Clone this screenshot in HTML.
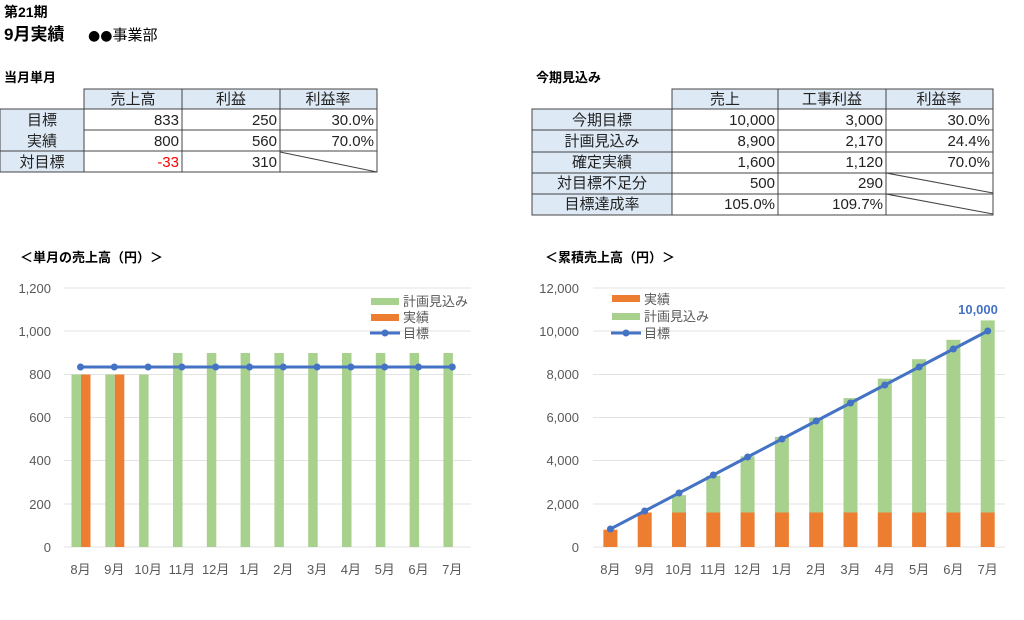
<!DOCTYPE html>
<html><head><meta charset="utf-8"><style>
body{margin:0;background:#fff;width:1024px;height:615px;overflow:hidden}
svg{font-family:"Liberation Sans","Noto Sans CJK JP",sans-serif}
</style></head><body>
<svg width="1024" height="615" xmlns="http://www.w3.org/2000/svg">
<text x="4" y="17" font-size="14" font-weight="bold">第21期</text>
<text x="4" y="40" font-size="17" font-weight="bold">9月実績</text>
<text x="88" y="40" font-size="15"><tspan font-family="DejaVu Sans" font-size="14">●●</tspan>事業部</text>
<text x="4" y="82" font-size="13" font-weight="bold">当月単月</text>
<text x="536" y="82" font-size="13" font-weight="bold">今期見込み</text>
<g font-size="15" fill="#222">
<rect x="84" y="89" width="293" height="20" fill="#dde9f5"/>
<rect x="0" y="109" width="84" height="63" fill="#dde9f5"/>
<g stroke="#444" stroke-width="1" fill="none">
<rect x="84" y="89" width="293" height="83"/>
<rect x="0" y="109" width="377" height="63"/>
<line x1="84" y1="130" x2="377" y2="130"/><line x1="0" y1="151" x2="377" y2="151"/>
<line x1="182" y1="89" x2="182" y2="172"/><line x1="280" y1="89" x2="280" y2="172"/>
<line x1="280" y1="152" x2="377" y2="172"/>
</g>
<g text-anchor="middle"><text x="133" y="104">売上高</text><text x="231" y="104">利益</text><text x="328" y="104">利益率</text>
<text x="42" y="125">目標</text><text x="42" y="146">実績</text><text x="42" y="167">対目標</text></g>
<g text-anchor="end"><text x="179" y="125">833</text><text x="277" y="125">250</text><text x="374" y="125">30.0%</text>
<text x="179" y="146">800</text><text x="277" y="146">560</text><text x="374" y="146">70.0%</text>
<text x="179" y="167" fill="#f00">-33</text><text x="277" y="167">310</text></g>

<rect x="672" y="89" width="321" height="20" fill="#dde9f5"/>
<rect x="532" y="109" width="140" height="106" fill="#dde9f5"/>
<g stroke="#444" stroke-width="1" fill="none">
<rect x="672" y="89" width="321" height="126"/>
<rect x="532" y="109" width="461" height="106"/>
<line x1="532" y1="130" x2="993" y2="130"/><line x1="532" y1="152" x2="993" y2="152"/>
<line x1="532" y1="173" x2="993" y2="173"/><line x1="532" y1="194" x2="993" y2="194"/>
<line x1="778" y1="89" x2="778" y2="215"/><line x1="886" y1="89" x2="886" y2="215"/>
<line x1="886" y1="173" x2="993" y2="193"/><line x1="886" y1="194" x2="993" y2="214"/>
</g>
<g text-anchor="middle"><text x="725" y="104">売上</text><text x="832" y="104">工事利益</text><text x="939" y="104">利益率</text>
<text x="602" y="125">今期目標</text><text x="602" y="146">計画見込み</text><text x="602" y="167">確定実績</text><text x="602" y="188">対目標不足分</text><text x="602" y="209">目標達成率</text></g>
<g text-anchor="end">
<text x="775" y="125">10,000</text><text x="883" y="125">3,000</text><text x="990" y="125">30.0%</text>
<text x="775" y="146">8,900</text><text x="883" y="146">2,170</text><text x="990" y="146">24.4%</text>
<text x="775" y="167">1,600</text><text x="883" y="167">1,120</text><text x="990" y="167">70.0%</text>
<text x="775" y="188">500</text><text x="883" y="188">290</text>
<text x="775" y="209">105.0%</text><text x="883" y="209">109.7%</text></g>
</g>

<text x="20" y="262" font-size="13" font-weight="bold">＜単月の売上高（円）＞</text>
<text x="545" y="262" font-size="13" font-weight="bold">＜累積売上高（円）＞</text>

<g id="left">
<g stroke="#e3e3e3" stroke-width="1">
<line x1="64" y1="288" x2="471" y2="288"/><line x1="64" y1="331" x2="471" y2="331"/><line x1="64" y1="374.5" x2="471" y2="374.5"/>
<line x1="64" y1="417.5" x2="471" y2="417.5"/><line x1="64" y1="460.5" x2="471" y2="460.5"/><line x1="64" y1="504" x2="471" y2="504"/><line x1="64" y1="547" x2="471" y2="547"/>
</g>
<g font-size="13" fill="#595959" text-anchor="end">
<text x="51" y="293">1,200</text><text x="51" y="336">1,000</text><text x="51" y="379">800</text><text x="51" y="422">600</text><text x="51" y="465">400</text><text x="51" y="509">200</text><text x="51" y="552">0</text></g>
<g fill="#a9d18e">
<rect x="71.5" y="374.5" width="9.5" height="172.5"/><rect x="105.3" y="374.5" width="9.5" height="172.5"/><rect x="139.1" y="374.5" width="9.5" height="172.5"/>
<rect x="173" y="353" width="9.5" height="194"/><rect x="206.8" y="353" width="9.5" height="194"/><rect x="240.6" y="353" width="9.5" height="194"/>
<rect x="274.4" y="353" width="9.5" height="194"/><rect x="308.2" y="353" width="9.5" height="194"/><rect x="342" y="353" width="9.5" height="194"/>
<rect x="375.8" y="353" width="9.5" height="194"/><rect x="409.6" y="353" width="9.5" height="194"/><rect x="443.4" y="353" width="9.5" height="194"/>
</g>
<g fill="#ed7d31"><rect x="81" y="374.5" width="9.5" height="172.5"/><rect x="114.8" y="374.5" width="9.5" height="172.5"/></g>
<polyline points="80.5,367 114.3,367 148.1,367 181.9,367 215.7,367 249.5,367 283.3,367 317.1,367 350.9,367 384.7,367 418.5,367 452.3,367" fill="none" stroke="#4472c4" stroke-width="3"/>
<g fill="#4472c4"><circle cx="80.5" cy="367" r="3.5"/><circle cx="114.3" cy="367" r="3.5"/><circle cx="148.1" cy="367" r="3.5"/><circle cx="181.9" cy="367" r="3.5"/><circle cx="215.7" cy="367" r="3.5"/><circle cx="249.5" cy="367" r="3.5"/><circle cx="283.3" cy="367" r="3.5"/><circle cx="317.1" cy="367" r="3.5"/><circle cx="350.9" cy="367" r="3.5"/><circle cx="384.7" cy="367" r="3.5"/><circle cx="418.5" cy="367" r="3.5"/><circle cx="452.3" cy="367" r="3.5"/></g>
<g font-size="13" fill="#595959" text-anchor="middle">
<text x="80.5" y="574">8月</text><text x="114.3" y="574">9月</text><text x="148.1" y="574">10月</text><text x="181.9" y="574">11月</text><text x="215.7" y="574">12月</text><text x="249.5" y="574">1月</text><text x="283.3" y="574">2月</text><text x="317.1" y="574">3月</text><text x="350.9" y="574">4月</text><text x="384.7" y="574">5月</text><text x="418.5" y="574">6月</text><text x="452.3" y="574">7月</text></g>
<rect x="371" y="298" width="28" height="7" fill="#a9d18e"/><rect x="371" y="314" width="28" height="7" fill="#ed7d31"/>
<line x1="370" y1="333" x2="400" y2="333" stroke="#4472c4" stroke-width="3"/><circle cx="385" cy="333" r="3.5" fill="#4472c4"/>
<g font-size="13" fill="#595959"><text x="403" y="306">計画見込み</text><text x="403" y="322">実績</text><text x="403" y="338">目標</text></g>
</g>

<g id="right">
<g stroke="#e3e3e3" stroke-width="1">
<line x1="593" y1="288" x2="1005" y2="288"/><line x1="593" y1="331" x2="1005" y2="331"/><line x1="593" y1="374.5" x2="1005" y2="374.5"/>
<line x1="593" y1="417.5" x2="1005" y2="417.5"/><line x1="593" y1="460.5" x2="1005" y2="460.5"/><line x1="593" y1="504" x2="1005" y2="504"/><line x1="593" y1="547" x2="1005" y2="547"/>
</g>
<g font-size="13" fill="#595959" text-anchor="end">
<text x="579" y="293">12,000</text><text x="579" y="336">10,000</text><text x="579" y="379">8,000</text><text x="579" y="422">6,000</text><text x="579" y="465">4,000</text><text x="579" y="509">2,000</text><text x="579" y="552">0</text></g>
<g fill="#a9d18e">
<rect x="672" y="495.2" width="14" height="17.3"/><rect x="706.3" y="475.8" width="14" height="36.7"/><rect x="740.6" y="456.4" width="14" height="56.1"/>
<rect x="774.9" y="436.9" width="14" height="75.6"/><rect x="809.2" y="417.5" width="14" height="95"/><rect x="843.5" y="398.1" width="14" height="114.4"/>
<rect x="877.8" y="378.7" width="14" height="133.8"/><rect x="912.1" y="359.2" width="14" height="153.3"/><rect x="946.4" y="339.8" width="14" height="172.7"/><rect x="980.7" y="320.4" width="14" height="192.1"/>
</g>
<g fill="#ed7d31">
<rect x="603.4" y="529.7" width="14" height="17.3"/>
<rect x="637.7" y="512.5" width="14" height="34.5"/><rect x="672" y="512.5" width="14" height="34.5"/><rect x="706.3" y="512.5" width="14" height="34.5"/><rect x="740.6" y="512.5" width="14" height="34.5"/><rect x="774.9" y="512.5" width="14" height="34.5"/><rect x="809.2" y="512.5" width="14" height="34.5"/><rect x="843.5" y="512.5" width="14" height="34.5"/><rect x="877.8" y="512.5" width="14" height="34.5"/><rect x="912.1" y="512.5" width="14" height="34.5"/><rect x="946.4" y="512.5" width="14" height="34.5"/><rect x="980.7" y="512.5" width="14" height="34.5"/>
</g>
<polyline points="610.4,529 644.7,511 679,493 713.3,475 747.6,457 781.9,439 816.2,421 850.5,403 884.8,385 919.1,367 953.4,349 987.7,331" fill="none" stroke="#4472c4" stroke-width="3"/>
<g fill="#4472c4"><circle cx="610.4" cy="529" r="3.5"/><circle cx="644.7" cy="511" r="3.5"/><circle cx="679" cy="493" r="3.5"/><circle cx="713.3" cy="475" r="3.5"/><circle cx="747.6" cy="457" r="3.5"/><circle cx="781.9" cy="439" r="3.5"/><circle cx="816.2" cy="421" r="3.5"/><circle cx="850.5" cy="403" r="3.5"/><circle cx="884.8" cy="385" r="3.5"/><circle cx="919.1" cy="367" r="3.5"/><circle cx="953.4" cy="349" r="3.5"/><circle cx="987.7" cy="331" r="3.5"/></g>
<text x="978" y="314" font-size="13" font-weight="bold" fill="#4472c4" text-anchor="middle">10,000</text>
<g font-size="13" fill="#595959" text-anchor="middle">
<text x="610.4" y="574">8月</text><text x="644.7" y="574">9月</text><text x="679" y="574">10月</text><text x="713.3" y="574">11月</text><text x="747.6" y="574">12月</text><text x="781.9" y="574">1月</text><text x="816.2" y="574">2月</text><text x="850.5" y="574">3月</text><text x="884.8" y="574">4月</text><text x="919.1" y="574">5月</text><text x="953.4" y="574">6月</text><text x="987.7" y="574">7月</text></g>
<rect x="612" y="295" width="28" height="7" fill="#ed7d31"/><rect x="612" y="313" width="28" height="7" fill="#a9d18e"/>
<line x1="611" y1="333" x2="641" y2="333" stroke="#4472c4" stroke-width="3"/><circle cx="626" cy="333" r="3.5" fill="#4472c4"/>
<g font-size="13" fill="#595959"><text x="644" y="304">実績</text><text x="644" y="321">計画見込み</text><text x="644" y="338">目標</text></g>
</g>
</svg>
</body></html>
